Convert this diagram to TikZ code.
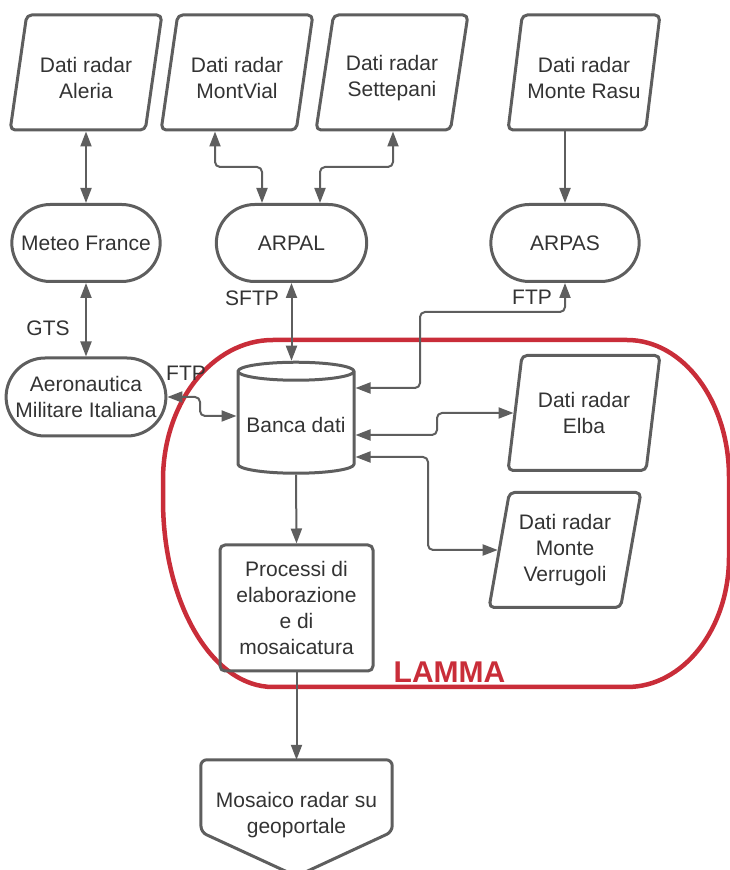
\documentclass[tikz,border=0pt]{standalone}
\usepackage{fontspec}
\setmainfont{Liberation Sans}
\usetikzlibrary{arrows.meta,shapes.geometric,shapes.misc}
\definecolor{linegray}{RGB}{94,94,94}
\definecolor{textgray}{RGB}{51,51,51}
\definecolor{lammared}{RGB}{201,45,57}
\newcommand{\dropline}{\rule{0pt}{27pt}}
\tikzset{
  box/.style={draw=linegray, line width=3pt, text=textgray, align=center},
  datain/.style={box, trapezium, trapezium left angle=77, trapezium right angle=103,
    trapezium stretches=true, minimum width=152pt, minimum height=115pt, rounded corners=5pt},
  agency/.style={box, rounded rectangle, minimum width=155pt, minimum height=77pt},
  link/.style={draw=linegray, line width=2pt, rounded corners=5pt},
  lbl/.style={text=textgray},
}
\begin{document}
\begin{tikzpicture}[x=1pt, y=1pt, line join=round,
    >={Triangle[length=15pt,width=11pt]},
    every node/.style={font=\fontsize{21}{26}\selectfont}]
  \useasboundingbox (0,0) rectangle (730,870);
  % LAMMA area
  \draw[lammared, line width=4.5pt] (273,530) -- (627,530)
    arc[start angle=90, end angle=0, x radius=102, y radius=137] -- (729,313)
    arc[start angle=0, end angle=-90, x radius=102, y radius=130] -- (273,183)
    arc[start angle=270, end angle=180, x radius=110, y radius=187] -- (163,390)
    arc[start angle=180, end angle=90, x radius=110, y radius=140] -- cycle;
  \node[text=lammared, font=\fontsize{30}{30}\selectfont\bfseries] (lamma) at (449.5,198) {LAMMA};
  % radar data
  \node[datain] (aleria) at (86,797.5) {\dropline Dati radar\\Aleria};
  \node[datain] (montvial) at (237,797.5) {\dropline Dati radar\\MontVial};
  \node[datain] (settepani) at (392,797.5) {\dropline Dati radar\\Settepani};
  \node[datain] (monterasu) at (584,797.5) {\dropline Dati radar\\Monte Rasu};
  \node[datain] (elba) at (584,457) {Dati radar\\Elba};
  \node[datain] (verrugoli) at (565,320) {Dati radar\\Monte\\Verrugoli};
  % agencies
  \node[agency] (meteo) at (86,627) {Meteo France};
  \node[agency, minimum width=157pt] (arpal) at (291.5,627) {ARPAL};
  \node[agency] (arpas) at (565,627) {ARPAS};
  \node[agency, minimum height=78pt] (aeronautica) at (86,473) {Aeronautica\\Militare Italiana};
  % database and processing
  \node[box, cylinder, shape border rotate=90, aspect=0.17, minimum width=116pt,
    minimum height=111pt] (banca) at (296,445.5) {Banca dati};
  \node[box, rounded corners=5pt, minimum width=153pt, minimum height=126pt] (processi)
    at (296.5,262) {Processi di\\elaborazione\\e di\\mosaicatura};
  \node[text=textgray, align=center, minimum width=191pt, minimum height=110pt] (mosaico)
    at (296.5,55) {Mosaico radar su\\geoportale};
  \draw[box, rounded corners=6pt] ([yshift=-6pt]mosaico.south) -- ++(-95.5,44)
    -- (mosaico.north west) -- (mosaico.north east) -- ++(0,-72) -- cycle;
  % protocol labels
  \node[lbl] (gts) at (48,542) {GTS};
  \node[lbl] (sftp) at (252,572) {SFTP};
  \node[lbl] (ftpsud) at (532,573) {FTP};
  \node[lbl] (ftpam) at (186,497) {FTP};
  % connectors
  \draw[link,<->] (meteo.north) -- (meteo.north |- aleria.south);
  \draw[link,<->] (215,0 |- montvial.south) |- (262,703) -- (262,0 |- arpal.north);
  \draw[link,<->] (393,0 |- settepani.south) |- (320,703) -- (320,0 |- arpal.north);
  \draw[link,->] (arpas.north |- monterasu.south) -- (arpas.north);
  \draw[link,<->] (meteo.south) -- (aeronautica.north);
  \draw[link,<->] (arpal.south) -- (arpal.south |- banca.north);
  \draw[link,<->] (arpas.south) |- (420,558) |- (banca.east |- 0,482);
  \draw[link,<->] (aeronautica.east) -| (200,454) -- (banca.west |- 0,454);
  \draw[link,<->] (banca.east |- 0,435) -| (437,457) -- (elba.west);
  \draw[link,<->] (banca.east |- 0,413) -| (428,320) -- (verrugoli.west);
  \draw[link,->] (banca.south) -- (processi.north);
  \draw[link,->] (processi.south) -- (mosaico.north);
\end{tikzpicture}
\end{document}
